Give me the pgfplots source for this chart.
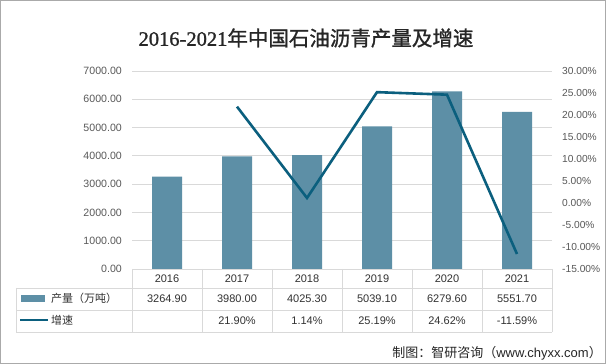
\documentclass[border=0pt]{standalone}
\usepackage{fontspec}
\setmainfont{Liberation Sans}
\newfontfamily\cjk{Noto Sans CJK SC}
\newfontfamily\cjkt[FakeBold=1.2]{Noto Sans CJK SC}
\newfontfamily\serifd[FakeBold=1.2]{Liberation Serif}
\usepackage{pgfplots}
\pgfplotsset{compat=1.18}
\definecolor{barcol}{RGB}{93,143,166}
\definecolor{linecol}{RGB}{11,95,126}
\definecolor{gridcol}{RGB}{217,217,217}
\definecolor{tickcol}{RGB}{89,89,89}
\definecolor{txtcol}{RGB}{50,50,50}
\definecolor{bordcol}{RGB}{170,170,170}
\begin{document}
\begin{tikzpicture}[x=1pt,y=1pt]
\useasboundingbox (0,0) rectangle (606,364);
\fill[white] (0,0) rectangle (606,364);
\draw[bordcol, line width=1.2pt] (0.6,0.6) rectangle (605.4,363.4);
% title
\node[font=\fontsize{20.5}{22}\selectfont, text=black!85] at (306,326) {{\serifd 2016-2021}{\cjkt 年中国石油沥青产量及增速}};
\begin{axis}[
  at={(132pt,95pt)}, anchor=south west, scale only axis,
  width=420pt, height=198pt,
  xmin=-0.5, xmax=5.5, ymin=0, ymax=7000,
  ytick={0,1000,...,7000}, xtick=\empty,
  scaled y ticks=false,
  axis line style={draw=none}, major tick length=0pt,
  ymajorgrids, grid style={gridcol, line width=0.9pt},
  /pgf/number format/assume math mode=true,
  yticklabel={\pgfmathprintnumber[fixed,fixed zerofill,precision=2,1000 sep={}]{\tick}},
  yticklabel style={font=\fontsize{10.6}{12}\selectfont, text=tickcol, anchor=east, inner sep=0pt, xshift=-10pt},
]
\addplot[ybar, bar width=30pt, fill=barcol, draw=none] coordinates {
(0,3264.9) (1,3980.0) (2,4025.3) (3,5039.1) (4,6279.6) (5,5551.7)};
\end{axis}
\begin{axis}[
  at={(132pt,95pt)}, anchor=south west, scale only axis,
  width=420pt, height=198pt,
  xmin=-0.5, xmax=5.5, ymin=-15, ymax=30,
  ytick={-15,-10,...,30}, xtick=\empty,
  axis y line*=right, axis x line=none,
  axis line style={draw=none}, major tick length=0pt,
  /pgf/number format/assume math mode=true,
  yticklabel={\pgfmathprintnumber[fixed,fixed zerofill,precision=2]{\tick}\%},
  yticklabel style={font=\fontsize{10.2}{12}\selectfont, text=tickcol, anchor=west, inner sep=0pt, xshift=10pt},
]
\addplot[linecol, line width=2.6pt, no marks] coordinates {
(1,21.90) (2,1.14) (3,25.19) (4,24.62) (5,-11.59)};
\end{axis}
% data table
\begin{scope}[gridcol, line width=0.9pt]
\draw (132,95) -- (552,95);
\draw (16,76) -- (552,76);
\draw (16,54) -- (552,54);
\draw (16,32) -- (552,32);
\draw (16,76) -- (16,32);
\foreach \xx in {132,202,272,342,412,482,552} {\draw (\xx,95) -- (\xx,32);}
\end{scope}
\begin{scope}[font=\fontsize{11}{13}\selectfont, text=txtcol]
\foreach \xx/\yr/\pv/\gv in {167/2016/3264.90/{},237/2017/3980.00/21.90\%,307/2018/4025.30/1.14\%,377/2019/5039.10/25.19\%,447/2020/6279.60/24.62\%,517/2021/5551.70/-11.59\%} {
  \node at (\xx,85) {\yr};
  \node at (\xx,65) {\pv};
  \node at (\xx,43) {\gv};
}
\fill[barcol] (21,62) rectangle (45,69);
\draw[linecol, line width=2.6pt] (20,44) -- (48,44);
\node[anchor=west, inner sep=0pt] at (51,65.5) {\cjk 产量（万吨）};
\node[anchor=west, inner sep=0pt] at (51,43.5) {\cjk 增速};
\end{scope}
\node[anchor=east, inner sep=0pt, font=\fontsize{13}{15}\selectfont, text=black!85] at (602,11) {{\cjk 制图：智研咨询（}www.chyxx.com{\cjk ）}};
\end{tikzpicture}
\end{document}
